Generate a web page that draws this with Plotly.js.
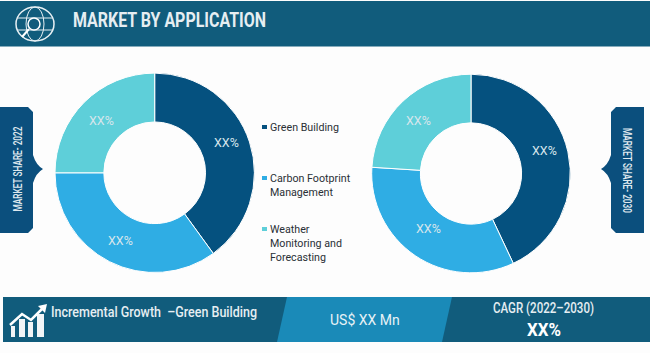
<!DOCTYPE html>
<html><head><meta charset="utf-8">
<script src="https://cdn.plot.ly/plotly-3.0.1.min.js"></script>
<style>html,body{margin:0;padding:0;background:#fdfdfd}#c{width:650px;height:353px}</style></head>
<body><div id="c"></div>
<script>
const categories = ['Green Building','Carbon Footprint Management','Weather Monitoring and Forecasting'];
const share2022 = [40, 35, 25];
const share2030 = [43, 33, 24];
const sliceLabels = ['XX%','XX%','XX%'];
const sliceColors = ['#05517f','#2fade4','#5ecfd9'];
const title = 'MARKET BY APPLICATION';
const W=650,H=353;
const px=x=>x/W, py=y=>1-y/H;
function donut(vals,cx,cy,r){
  return {type:'pie',values:vals,labels:categories,textinfo:'none',
    hole:0.51,sort:false,direction:'clockwise',rotation:0,showlegend:false,
    marker:{colors:sliceColors,line:{color:'#ffffff',width:1}},
    domain:{x:[px(cx-r),px(cx+r)],y:[py(cy+r),py(cy-r)]},hoverinfo:'label+value'};
}
const rect=(x0,y0,x1,y1,c)=>({type:'rect',xref:'paper',yref:'paper',x0:px(x0),x1:px(x1),y0:py(y1),y1:py(y0),fillcolor:c,line:{width:0},layer:'below'});
const path=(pts,c)=>({type:'path',xref:'paper',yref:'paper',path:'M'+pts.map(p=>px(p[0])+','+py(p[1])).join('L')+'Z',fillcolor:c,line:{width:0},layer:'below'});
const raw=(d,c)=>({type:'path',xref:'paper',yref:'paper',path:d.replace(/(-?[\d.]+) (-?[\d.]+)/g,(m,a,b)=>px(+a)+','+py(+b)),fillcolor:c,line:{width:0},layer:'below'});
const txt=(x,y,t,size,color,o={})=>{const {family='Roboto, sans-serif',weight=400,...rest}=o;return Object.assign({xref:'paper',yref:'paper',x:px(x),y:py(y),text:t,showarrow:false,font:{family,size,color,weight},xanchor:'center',yanchor:'middle',align:'left'},rest);};
const band='#115c7c', blue='#1a8ab8', tab='#0b4f7d', ink='#2a3036', pale='#e6eef2', sliceInk='#d8e6ec';
const icon='#e8f0f4';
const shapes=[
  rect(0,1,650,46.5,band),
  rect(3,297,650,342,band),
  path([[287,297],[452,297],[442,342],[277,342]],blue),
  raw('M0 107 L28 107 L33 112 L33 155 Q36 165 43 169 Q36 173 33 183 L33 228 L28 233 L0 233 Z',tab),
  raw('M644 107 L616 107 L611 112 L611 155 Q608 165 601 169 Q608 173 611 183 L611 228 L616 233 L644 233 Z',tab),
  rect(262,125,267,129,sliceColors[0]),
  rect(262,176,267,180,sliceColors[1]),
  rect(262,227,267,231,sliceColors[2]),
  {type:'circle',xref:'paper',yref:'paper',x0:px(16),x1:px(54),y0:py(41),y1:py(7),line:{color:icon,width:1.5}},
  {type:'circle',xref:'paper',yref:'paper',x0:px(26),x1:px(44),y0:py(41),y1:py(7),line:{color:icon,width:1}},
  {type:'line',xref:'paper',yref:'paper',x0:px(17),x1:px(53),y0:py(18),y1:py(18),line:{color:icon,width:1}},
  {type:'line',xref:'paper',yref:'paper',x0:px(17),x1:px(53),y0:py(30),y1:py(30),line:{color:icon,width:1}},
  {type:'circle',xref:'paper',yref:'paper',x0:px(28),x1:px(40),y0:py(30),y1:py(18),fillcolor:band,line:{color:'#ffffff',width:1.5}},
  {type:'line',xref:'paper',yref:'paper',x0:px(29),x1:px(22),y0:py(29),y1:py(37),line:{color:'#ffffff',width:2}},
  rect(11,326,15,337,'#f2f5f7'),rect(19,319,25,337,'#f2f5f7'),rect(28,322,33,337,'#f2f5f7'),rect(37,314,44,337,'#f2f5f7'),
  {type:'path',xref:'paper',yref:'paper',path:'M'+[[10,325],[22,314],[31,320],[43,308]].map(p=>px(p[0])+','+py(p[1])).join('L'),line:{color:'#ffffff',width:2.5}},
  path([[38,306],[47,304],[45,313]],'#ffffff')
];
const labelPos=[[226.7,142],[120,240],[101.7,120.7],[544,150.7],[428.7,228],[418.7,120]];
const fitted=[
  [title,193],
  ['Incremental Growth  –Green Building',206],
  ['CAGR (2022–2030)',101],
  ['XX%\u200b',34],
  ['MARKET SHARE- 2022',85],
  ['MARKET SHARE- 2030',85]
];
const annotations=[
  txt(71,20,fitted[0][0],20,pale,{xanchor:'left',weight:700}),
  txt(49,312,fitted[1][0],14,pale,{xanchor:'left',weight:500}),
  txt(364.5,320,'US$ XX Mn',14,'#e8f2f6'),
  txt(554.5,308,fitted[2][0],14,pale,{weight:500}),
  txt(546,329,fitted[3][0],19,'#ffffff',{weight:700}),
  txt(17.5,150,fitted[4][0],12,'#dfe8ee',{textangle:-90,weight:500}),
  txt(627,189,fitted[5][0],12,'#dfe8ee',{textangle:90,weight:500}),
  txt(268,127,categories[0],10.7,ink,{xanchor:'left'}),
  txt(268,185,'Carbon Footprint<br>Management',10.7,ink,{xanchor:'left'}),
  txt(268,243,'Weather<br>Monitoring and<br>Forecasting',10.7,ink,{xanchor:'left'})
];
labelPos.forEach((p,i)=>annotations.push(txt(p[0],p[1],sliceLabels[i%3],12.5,sliceInk)));
Plotly.newPlot('c',[donut(share2022,154.7,172.8,99.7),donut(share2030,471,173.5,99.3)],{
  width:W,height:H,margin:{l:0,r:0,t:0,b:0},paper_bgcolor:'#fdfdfd',shapes,annotations
},{displayModeBar:false,staticPlot:true}).then(gd=>{
  const map=new Map(fitted);
  gd.querySelectorAll('.annotation-text').forEach(t=>{
    const w=map.get(t.textContent);
    if(w){t.setAttribute('textLength',w);t.setAttribute('lengthAdjust','spacingAndGlyphs');}
  });
});
</script></body></html>
